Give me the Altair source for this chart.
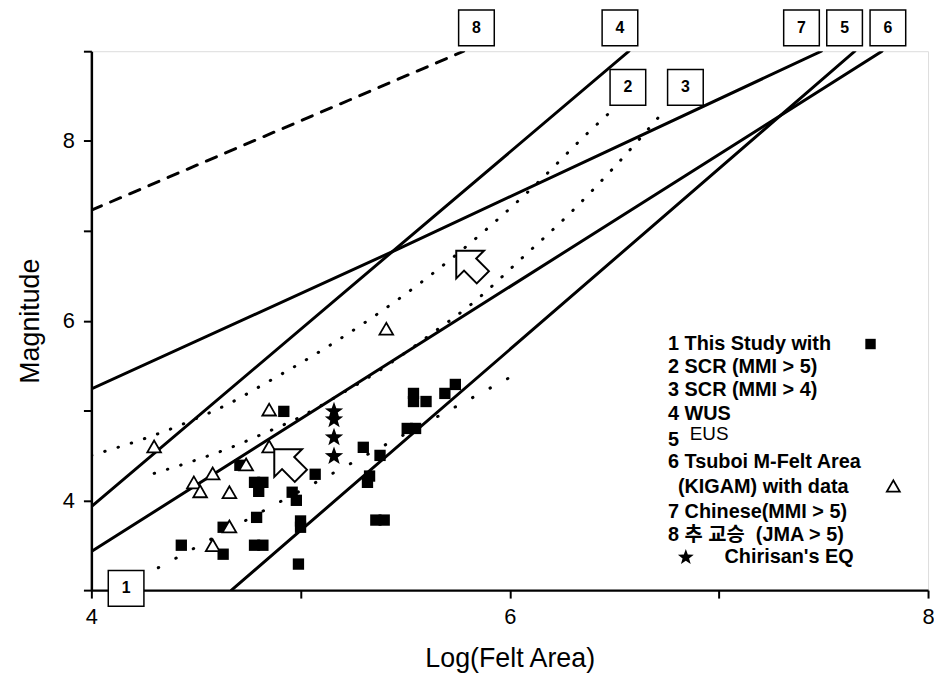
import altair as alt
import pandas as pd

# ---------------- data ----------------
# "This Study" data (filled squares)
sq_x = [4.43, 4.63, 4.63, 4.71, 4.78, 4.82, 4.79, 4.78, 4.82, 4.80, 4.92, 4.96, 4.98,
        5.00, 5.00, 4.99, 5.07, 5.30, 5.38, 5.33, 5.32, 5.36, 5.40, 5.51, 5.55, 5.54,
        5.54, 5.60, 5.69, 5.74]
sq_y = [3.50, 3.40, 3.70, 4.39, 3.50, 3.50, 3.81, 4.20, 4.20, 4.10, 4.99, 4.09, 4.00,
        3.77, 3.70, 3.29, 4.29, 4.59, 4.50, 4.27, 4.20, 3.78, 3.78, 4.80, 4.80, 5.19,
        5.10, 5.10, 5.19, 5.29]

# KIGAM data (open triangles)
tri_x = [4.30, 4.49, 4.52, 4.58, 4.74, 4.66, 4.66, 4.58, 4.85, 4.85, 5.41]
tri_y = [4.60, 4.20, 4.10, 4.30, 4.40, 4.09, 3.71, 3.50, 4.60, 5.01, 5.91]

# Chirisan's EQ (stars)
star_x = [5.16, 5.16, 5.16, 5.16]
star_y = [4.99, 4.90, 4.70, 4.49]

# relations 1..8
l1_x = [4.32, 6.01]
l1_y = [3.25, 5.38]
l2_x = [4.00, 4.27, 4.46, 4.71, 4.77, 5.15, 5.34, 5.59, 5.90, 6.14, 6.36, 6.47]
l2_y = [4.50, 4.70, 4.87, 5.14, 5.22, 5.74, 6.03, 6.45, 7.04, 7.55, 8.06, 8.30]
l3_x = [4.30, 4.49, 4.68, 4.81, 5.00, 5.19, 5.38, 5.63, 5.82, 6.06, 6.29, 6.50, 6.74]
l3_y = [4.30, 4.44, 4.60, 4.73, 4.93, 5.18, 5.45, 5.86, 6.19, 6.70, 7.20, 7.71, 8.34]
l4_x = [4.00, 6.57]
l4_y = [3.93, 9.00]
l5_x = [4.67, 7.65]
l5_y = [3.00, 9.00]
l6_x = [4.00, 7.78]
l6_y = [3.43, 9.00]
l7_x = [4.00, 5.45, 7.49]
l7_y = [5.24, 6.78, 9.00]
l8_x = [4.00, 5.78]
l8_y = [7.23, 9.00]

# numbered label boxes
box_label = ["8", "4", "7", "5", "6", "2", "3", "1"]
box_x = [5.841, 6.527, 7.395, 7.601, 7.808, 6.565, 6.840, 4.166]
box_y = [9.26, 9.26, 9.26, 9.26, 9.26, 8.597, 8.597, 3.02]

# open arrows
arrow_x = [5.83, 4.96]
arrow_y = [6.58, 4.37]

# legend text
leg_text = ["1 This Study with", "2 SCR (MMI > 5)", "3 SCR (MMI > 4)", "4 WUS", "5",
            "6 Tsuboi M-Felt Area", "(KIGAM) with data", "7 Chinese(MMI > 5)",
            "8 추 교승\u00a0 (JMA > 5)", "Chirisan's EQ"]
leg_x = [6.757, 6.757, 6.757, 6.757, 6.757, 6.757, 6.804, 6.757, 6.757, 7.027]
leg_y = [5.740, 5.486, 5.232, 4.956, 4.670, 4.425, 4.149, 3.873, 3.608, 3.365]

FONT = "Liberation Sans, Arial, Noto Sans CJK KR, sans-serif"

STAR = ("M0,-1L0.24,-0.33L0.951,-0.309L0.39,0.127L0.588,0.809L0,0.41L-0.588,0.809"
        "L-0.39,0.127L-0.951,-0.309L-0.24,-0.33Z")
ARROW = ("M-1,-1L0.55,-1L0.115,-0.565L0.825,0.145L0.145,0.825L-0.565,0.115L-1,0.55Z")


def line_df(pairs):
    rows = []
    for name, xs, ys in pairs:
        for i, (a, b) in enumerate(zip(xs, ys)):
            rows.append({"series": name, "i": i, "x": a, "y": b})
    return pd.DataFrame(rows)


xscale = alt.Scale(domain=[4, 8], nice=False, zero=False)
yscale = alt.Scale(domain=[3, 9], nice=False, zero=False)

X = alt.X("x:Q", scale=xscale, title="Log(Felt Area)",
          axis=alt.Axis(values=[4, 5, 6, 7, 8],
                        labelExpr="datum.value % 2 == 0 ? datum.label : ''",
                        grid=False, tickSize=8, tickWidth=2, tickColor="black",
                        domainColor="black", domainWidth=2.5,
                        labelFont=FONT, labelFontSize=22, labelColor="black",
                        labelPadding=9, labelFlush=False, labelOverlap=False,
                        titleFont=FONT, titleFontSize=27, titleFontWeight="normal",
                        titleColor="black", titlePadding=18))
Y = alt.Y("y:Q", scale=yscale, title="Magnitude",
          axis=alt.Axis(values=[3, 4, 5, 6, 7, 8, 9],
                        labelExpr="datum.value % 2 == 0 ? datum.label : ''",
                        grid=False, tickSize=8, tickWidth=2, tickColor="black",
                        domainColor="black", domainWidth=2.5,
                        labelFont=FONT, labelFontSize=22, labelColor="black",
                        labelPadding=9, labelFlush=False, labelOverlap=False,
                        titleFont=FONT, titleFontSize=27, titleFontWeight="normal",
                        titleColor="black", titlePadding=18))


def lines_layer(pairs, **style):
    return alt.Chart(line_df(pairs)).mark_line(color="black", strokeWidth=3,
                                                strokeCap="round", clip=True,
                                                **style).encode(
        x=X, y=Y, detail="series:N", order="i:Q")


solid = lines_layer([("4", l4_x, l4_y), ("5", l5_x, l5_y), ("6", l6_x, l6_y),
                     ("7", l7_x, l7_y)])
dash8 = lines_layer([("8", l8_x, l8_y)], strokeDash=[11, 10])
dot1 = lines_layer([("1", l1_x, l1_y)], strokeDash=[0.5, 19.5])
dot23 = lines_layer([("2", l2_x, l2_y), ("3", l3_x, l3_y)], strokeDash=[0.5, 13.5],
                    interpolate="monotone")

squares = alt.Chart(pd.DataFrame({"x": sq_x, "y": sq_y})).mark_point(
    shape="square", filled=True, color="black", size=130, opacity=1).encode(x=X, y=Y)
triangles = alt.Chart(pd.DataFrame({"x": tri_x, "y": tri_y})).mark_point(
    shape="triangle-up", filled=True, fill="white", stroke="black", strokeWidth=1.8,
    size=190, opacity=1).encode(x=X, y=Y)
stars = alt.Chart(pd.DataFrame({"x": star_x, "y": star_y})).mark_point(
    shape=STAR, filled=True, color="black", size=380, opacity=1).encode(x=X, y=Y)
arrows = alt.Chart(pd.DataFrame({"x": arrow_x, "y": arrow_y})).mark_point(
    shape=ARROW, filled=True, fill="white", stroke="black", strokeWidth=2, size=1300,
    opacity=1).encode(x=X, y=Y)

box_df = pd.DataFrame({"x": box_x, "y": box_y, "label": box_label})
boxes = alt.Chart(box_df).mark_point(shape="square", filled=True, fill="white",
                                     stroke="black", strokeWidth=1.5, size=1290,
                                     opacity=1).encode(x=X, y=Y)
box_text = alt.Chart(box_df).mark_text(font=FONT, fontSize=16, fontWeight="bold",
                                       color="black", align="center",
                                       baseline="middle").encode(x=X, y=Y, text="label:N")

legend_text = alt.Chart(pd.DataFrame({"x": leg_x, "y": leg_y, "label": leg_text})).mark_text(
    font=FONT, fontSize=20, fontWeight="bold", color="black", align="left",
    baseline="middle").encode(x=X, y=Y, text="label:N")
eus_text = alt.Chart(pd.DataFrame({"x": [6.861], "y": [4.735], "label": ["EUS"]})).mark_text(
    font=FONT, fontSize=19, color="black", align="left", baseline="middle").encode(
    x=X, y=Y, text="label:N")

leg_sq = alt.Chart(pd.DataFrame({"x": [7.725], "y": [5.740]})).mark_point(
    shape="square", filled=True, color="black", size=110, opacity=1).encode(x=X, y=Y)
leg_tri = alt.Chart(pd.DataFrame({"x": [7.834], "y": [4.160]})).mark_point(
    shape="triangle-up", filled=True, fill="white", stroke="black", strokeWidth=1.8,
    size=170, opacity=1).encode(x=X, y=Y)
leg_star = alt.Chart(pd.DataFrame({"x": [6.842], "y": [3.365]})).mark_point(
    shape=STAR, filled=True, color="black", size=280, opacity=1).encode(x=X, y=Y)

chart = alt.layer(solid, dash8, dot1, dot23, squares, triangles, stars, arrows, boxes,
                  box_text, legend_text, eus_text, leg_sq, leg_tri, leg_star).properties(
    width=843, height=543,
    autosize=alt.AutoSizeParams(type="none"),
    padding={"left": 84, "top": 41, "right": 6, "bottom": 86},
).configure_view(stroke="black", strokeWidth=2.5).configure(background="white")

chart.save("out.html", embed_options={"renderer": "svg", "actions": False})
